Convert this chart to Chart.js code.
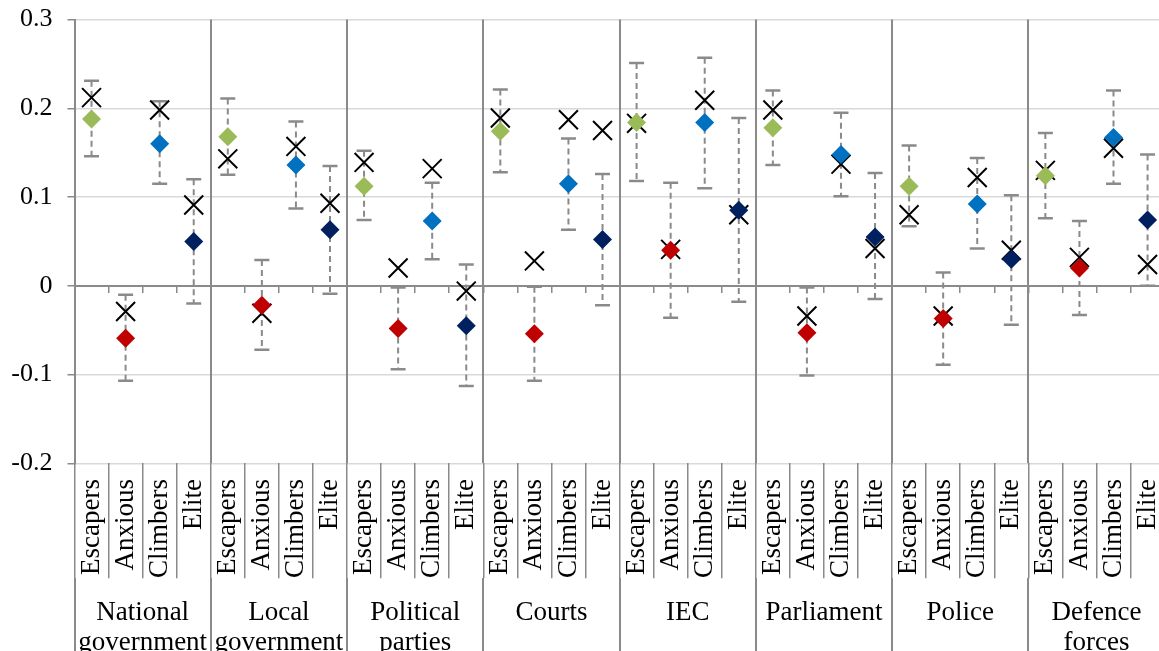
<!DOCTYPE html>
<html>
<head>
<meta charset="utf-8">
<script src="https://cdn.jsdelivr.net/npm/chart.js@4/dist/chart.umd.min.js"></script>
<style>
  html, body { margin: 0; padding: 0; background: #fff; overflow: hidden; }
  canvas { display: block; }
</style>
</head>
<body>
<canvas id="trust" width="1180" height="651"></canvas>
<script>
// Institutions (outer category level) and classes (inner level)
const institutions = [
  ['National', 'government'], ['Local', 'government'], ['Political', 'parties'],
  'Courts', 'IEC', 'Parliament', 'Police', ['Defence', 'forces']
];
const classes = ['Escapers', 'Anxious', 'Climbers', 'Elite'];

// Point estimates, one value per institution
const escapersMean = [0.188, 0.168, 0.112, 0.174, 0.184, 0.178, 0.112, 0.124];
const anxiousMean  = [-0.059, -0.022, -0.048, -0.054, 0.040, -0.053, -0.037, 0.020];
const climbersMean = [0.160, 0.136, 0.073, 0.115, 0.184, 0.148, 0.092, 0.167];
const eliteMean    = [0.050, 0.063, -0.045, 0.052, 0.085, 0.055, 0.030, 0.074];

// Confidence interval bounds
const escapersLow  = [0.146, 0.125, 0.074, 0.128, 0.118, 0.136, 0.067, 0.076];
const escapersHigh = [0.231, 0.211, 0.152, 0.221, 0.251, 0.220, 0.158, 0.172];
const anxiousLow   = [-0.107, -0.072, -0.094, -0.107, -0.036, -0.101, -0.089, -0.033];
const anxiousHigh  = [-0.010, 0.029, -0.002, -0.001, 0.116, -0.002, 0.015, 0.073];
const climbersLow  = [0.115, 0.087, 0.030, 0.063, 0.110, 0.101, 0.042, 0.115];
const climbersHigh = [0.208, 0.185, 0.116, 0.166, 0.257, 0.195, 0.144, 0.220];
const eliteLow     = [-0.020, -0.009, -0.113, -0.022, -0.018, -0.015, -0.044, 0.000];
const eliteHigh    = [0.120, 0.135, 0.024, 0.126, 0.189, 0.127, 0.102, 0.148];

// Comparison estimates shown as crosses
const escapersCross = [0.212, 0.143, 0.139, 0.189, 0.183, 0.198, 0.080, 0.130];
const anxiousCross  = [-0.029, -0.031, 0.020, 0.028, 0.041, -0.034, -0.034, 0.032];
const climbersCross = [0.198, 0.157, 0.132, 0.187, 0.209, 0.137, 0.122, 0.155];
const eliteCross    = [0.091, 0.093, -0.006, 0.175, 0.080, 0.042, 0.040, 0.024];

const classColors = ['#9BBB59', '#C00000', '#0070C0', '#002060'];

const means  = [escapersMean, anxiousMean, climbersMean, eliteMean];
const lows   = [escapersLow, anxiousLow, climbersLow, eliteLow];
const highs  = [escapersHigh, anxiousHigh, climbersHigh, eliteHigh];
const crosses = [escapersCross, anxiousCross, climbersCross, eliteCross];

const FONT = "'Liberation Serif', 'Times New Roman', serif";
const DARK = '#8a8a8a';
const LIGHT = '#d9d9d9';

// One label per (institution, class) slot
const slotLabels = [];
institutions.forEach(() => classes.forEach(c => slotLabels.push(c)));
const nClasses = classes.length;

// Place a per-institution series onto the slots of one class
function spread(values, classIndex) {
  const out = new Array(slotLabels.length).fill(null);
  values.forEach((v, g) => { out[g * nClasses + classIndex] = v; });
  return out;
}

const datasets = classes.map((name, c) => ({
  label: name,
  data: spread(means[c], c),
  errLow: spread(lows[c], c),
  errHigh: spread(highs[c], c),
  showLine: false,
  pointStyle: 'rectRot',
  pointRadius: 9.5,
  pointHoverRadius: 9.5,
  backgroundColor: classColors[c],
  borderColor: classColors[c],
  borderWidth: 0,
  order: 1
}));

const crossData = new Array(slotLabels.length).fill(null);
crosses.forEach((vals, c) => vals.forEach((v, g) => { crossData[g * nClasses + c] = v; }));
datasets.push({
  label: 'Comparison',
  data: crossData,
  showLine: false,
  pointStyle: 'crossRot',
  pointRadius: 13.4,
  pointHoverRadius: 13.4,
  borderColor: '#000',
  backgroundColor: '#000',
  borderWidth: 2,
  order: 2
});

// Dashed interval whiskers with solid caps, drawn beneath the markers
const errorBars = {
  id: 'errorBars',
  beforeDatasetsDraw(chart) {
    const { ctx, scales: { x, y } } = chart;
    ctx.save();
    chart.data.datasets.forEach(ds => {
      if (!ds.errLow) return;
      ds.data.forEach((v, i) => {
        if (v === null) return;
        const px = x.getPixelForValue(i);
        const top = y.getPixelForValue(ds.errHigh[i]);
        const bot = y.getPixelForValue(ds.errLow[i]);
        ctx.strokeStyle = DARK;
        ctx.lineWidth = 2;
        ctx.setLineDash([6, 4]);
        ctx.beginPath();
        ctx.moveTo(px, top);
        ctx.lineTo(px, bot);
        ctx.stroke();
        ctx.setLineDash([]);
        ctx.lineWidth = 2.5;
        ctx.beginPath();
        ctx.moveTo(px - 7.5, top); ctx.lineTo(px + 7.5, top);
        ctx.moveTo(px - 7.5, bot); ctx.lineTo(px + 7.5, bot);
        ctx.stroke();
      });
    });
    ctx.restore();
  }
};

new Chart(document.getElementById('trust'), {
  type: 'line',
  data: { labels: slotLabels, datasets },
  plugins: [errorBars],
  options: {
    responsive: false,
    animation: false,
    devicePixelRatio: 1,
    events: [],
    layout: { padding: { top: 19.5, right: 6.5, left: 0, bottom: 0 } },
    plugins: { legend: { display: false }, tooltip: { enabled: false } },
    scales: {
      y: {
        min: -0.2,
        max: 0.3,
        afterFit(s) {
          s.width = 74.5;
          s.paddingTop = 0;
          s.paddingBottom = 0;
        },
        ticks: {
          stepSize: 0.1,
          padding: 15,
          color: '#000',
          font: { family: FONT, size: 26 },
          callback: v => String(Math.round(v * 10) / 10)
        },
        grid: {
          color: c => (c.tick && Math.abs(c.tick.value) < 1e-9 ? DARK : LIGHT),
          lineWidth: 1.5,
          tickColor: DARK,
          tickLength: 7
        },
        border: { color: DARK, width: 2 }
      },
      x: {
        type: 'category',
        labels: slotLabels,
        position: 'bottom',
        weight: 0,
        offset: true,
        afterFit(s) { s.height = 115; },
        grid: {
          offset: true,
          drawOnChartArea: false,
          tickLength: 115,
          color: DARK,
          lineWidth: 1.5
        },
        border: { display: false },
        ticks: {
          autoSkip: false,
          minRotation: 90,
          maxRotation: 90,
          padding: -99.3,
          color: '#000',
          font: { family: FONT, size: 27 }
        }
      },
      group: {
        type: 'category',
        axis: 'x',
        labels: institutions,
        position: 'bottom',
        weight: 1,
        offset: true,
        afterFit(s) { s.height = 72.7; },
        grid: {
          offset: true,
          drawOnChartArea: true,
          tickLength: 80,
          color: DARK,
          lineWidth: 2
        },
        border: { display: false },
        ticks: {
          autoSkip: false,
          maxRotation: 0,
          padding: -60.5,
          color: '#000',
          font: { family: FONT, size: 27, lineHeight: 1.11 }
        }
      },
      zero: {
        type: 'category',
        axis: 'x',
        labels: slotLabels,
        position: { y: 0 },
        offset: true,
        grid: {
          offset: true,
          drawOnChartArea: false,
          tickLength: 6,
          color: DARK,
          lineWidth: 1.5
        },
        border: { color: DARK, width: 2 },
        ticks: { display: false }
      }
    }
  }
});
</script>
</body>
</html>
